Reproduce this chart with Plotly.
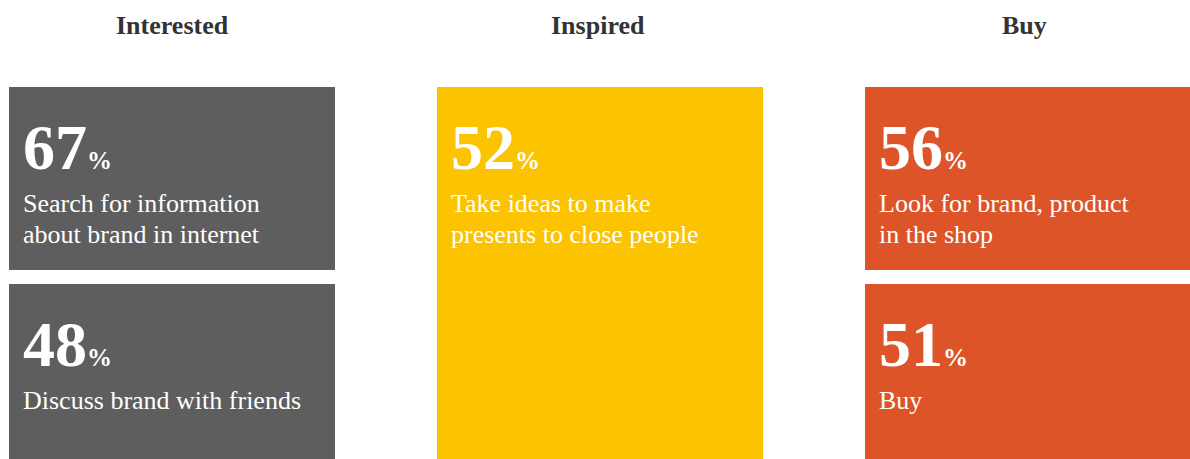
import plotly.graph_objects as go

# Funnel stages and the survey cards shown under each of them
stages = ["Interested", "Inspired", "Buy"]
stage_colors = ["#5E5E5E", "#FCC300", "#DD5429"]

card_stage = ["Interested", "Interested", "Inspired", "Buy", "Buy"]
card_value = [67, 48, 52, 56, 51]
card_label = [
    ["Search for information", "about brand in internet"],
    ["Discuss brand with friends"],
    ["Take ideas to make", "presents to close people"],
    ["Look for brand, product", "in the shop"],
    ["Buy"],
]

W, H = 1190, 459
FONT = "Liberation Serif, Times New Roman, serif"

col_left0, col_step, col_w = 9, 428, 326
top_y, split_top_end, split_bot_start, bottom_y = 87, 270, 284, 475
line_gap = 31

fig = go.Figure()
shapes, annotations = [], []

for i, stage in enumerate(stages):
    left = col_left0 + i * col_step
    center_hdr = 172 + i * 426
    annotations.append(dict(
        x=center_hdr, y=42, xref="x", yref="y", text=f"<b>{stage}</b>",
        showarrow=False, xanchor="center", yanchor="bottom",
        font=dict(family=FONT, size=26, color="#333333"),
    ))
    idx = [k for k, s in enumerate(card_stage) if s == stage]
    if len(idx) == 1:
        boxes = [(top_y, bottom_y)]
    else:
        boxes = [(top_y, split_top_end), (split_bot_start, bottom_y)]
    for k, (y0, y1) in zip(idx, boxes):
        shapes.append(dict(
            type="rect", xref="x", yref="y", x0=left, x1=left + col_w,
            y0=y0, y1=y1, fillcolor=stage_colors[i], line=dict(width=0),
            layer="below",
        ))
        annotations.append(dict(
            x=left + 12, y=y0 + 98, xref="x", yref="y",
            text=f"<b>{card_value[k]}<span style='font-size:25px'>%</span></b>",
            showarrow=False, xanchor="left", yanchor="bottom",
            font=dict(family=FONT, size=64, color="white"),
        ))
        for j, line in enumerate(card_label[k]):
            annotations.append(dict(
                x=left + 12, y=y0 + 100 + j * line_gap, xref="x", yref="y",
                text=line, align="left",
                showarrow=False, xanchor="left", yanchor="top",
                font=dict(family=FONT, size=26, color="white"),
            ))

fig.update_layout(
    width=W, height=H,
    margin=dict(l=0, r=0, t=0, b=0),
    paper_bgcolor="white", plot_bgcolor="white",
    xaxis=dict(range=[0, W], visible=False, fixedrange=True),
    yaxis=dict(range=[H, 0], visible=False, fixedrange=True),
    shapes=shapes, annotations=annotations, showlegend=False,
)

fig.write_html("out.html", config={"displayModeBar": False})
